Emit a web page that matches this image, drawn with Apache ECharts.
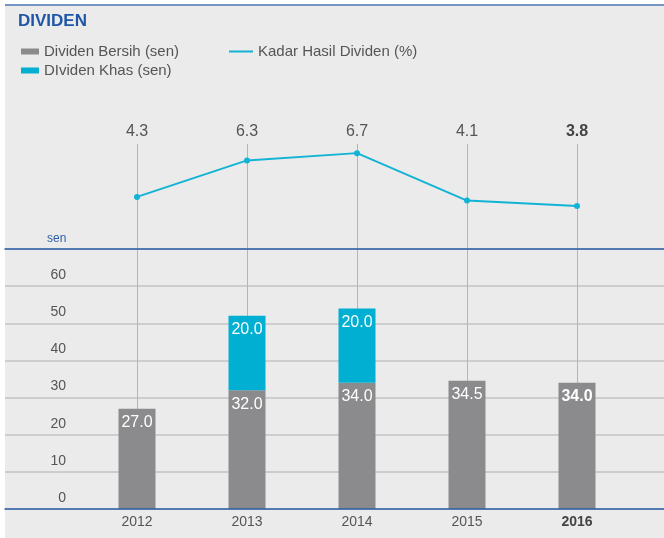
<!DOCTYPE html>
<html>
<head>
<meta charset="utf-8">
<script src="https://cdn.jsdelivr.net/npm/echarts@6/dist/echarts.min.js"></script>
<style>
  html, body { margin: 0; padding: 0; background: #fff; }
  #main { width: 664px; height: 538px; }
</style>
</head>
<body>
<div id="main"></div>
<script>
var years = ["2012", "2013", "2014", "2015", "2016"];
var dividenBersih = [27.0, 32.0, 34.0, 34.5, 34.0];
var dividenKhas = [null, 20.0, 20.0, null, null];
var kadarHasil = [4.3, 6.3, 6.7, 4.1, 3.8];
var senTicks = [0, 10, 20, 30, 40, 50, 60, 70];

var FONT = "Liberation Sans, Arial, sans-serif";
var lastIdx = years.length - 1;

// tahun semasa ditebalkan
function boldLast(arr) {
  return arr.map(function (v, i) {
    return i === lastIdx ? { value: v, textStyle: { fontWeight: "bold", color: "#444" } } : v;
  });
}

function barData(arr) {
  return arr.map(function (v, i) {
    if (v == null) return "-";
    var d = { value: v };
    if (i === lastIdx) d.label = { fontWeight: "bold" };
    return d;
  });
}

var myChart = echarts.init(document.getElementById("main"));
myChart.setOption({
  backgroundColor: "#fff",
  textStyle: { fontFamily: FONT },
  animation: false,
  graphic: [
    { type: "rect", shape: { x: 5, y: 6, width: 659, height: 532 }, style: { fill: "#ebebeb" }, z: -10 },
    { type: "line", shape: { x1: 5, y1: 5, x2: 664, y2: 5 }, style: { stroke: "#4a72ad", lineWidth: 1.5 }, z: -5 }
  ],
  title: {
    text: "DIVIDEN",
    left: 13,
    top: 8,
    textStyle: { color: "#1e56a8", fontSize: 17, fontWeight: "bold", fontFamily: FONT }
  },
  legend: [
    {
      orient: "vertical",
      left: 16,
      top: 39,
      itemWidth: 18,
      itemHeight: 6,
      itemGap: 4,
      icon: "rect",
      textStyle: { color: "#555", fontSize: 15, fontFamily: FONT },
      data: ["Dividen Bersih (sen)", "DIviden Khas (sen)"]
    },
    {
      left: 224,
      top: 39,
      itemWidth: 24,
      itemHeight: 2,
      icon: "rect",
      textStyle: { color: "#555", fontSize: 15, fontFamily: FONT },
      data: ["Kadar Hasil Dividen (%)"]
    }
  ],
  grid: [
    { left: 5, right: 0, top: 249, bottom: 29 },
    { left: 82, right: 32, top: 249, bottom: 29 },
    { left: 137, right: 87, top: 144, bottom: 29 }
  ],
  xAxis: [
    {
      gridIndex: 0, type: "value", min: 0, max: 1, position: "bottom", z: 5,
      axisLine: { show: true, lineStyle: { color: "#2d5ea8", width: 1.5 } },
      axisTick: { show: false }, axisLabel: { show: false }, splitLine: { show: false }
    },
    {
      gridIndex: 0, type: "value", min: 0, max: 1, position: "top", z: 5,
      axisLine: { show: true, lineStyle: { color: "#2d5ea8", width: 1.5 } },
      axisTick: { show: false }, axisLabel: { show: false }, splitLine: { show: false }
    },
    {
      gridIndex: 1, type: "category", data: boldLast(years),
      axisLine: { show: false }, axisTick: { show: false },
      axisLabel: { color: "#555", fontSize: 14, margin: 6, fontFamily: FONT }
    },
    {
      gridIndex: 2, type: "category", position: "top", boundaryGap: false,
      data: boldLast(kadarHasil.map(function (v) { return v.toFixed(1); })),
      axisLine: { show: false },
      axisTick: { show: false },
      axisLabel: { color: "#555", fontSize: 16, margin: 4, fontFamily: FONT },
      splitLine: { show: true, lineStyle: { color: "#b5b5b5", width: 1 } }
    }
  ],
  yAxis: [
    {
      gridIndex: 0, type: "value", min: senTicks[0], max: senTicks[senTicks.length - 1], interval: 10,
      name: "sen", nameLocation: "end", nameGap: 4,
      nameTextStyle: { color: "#2d5ea8", fontSize: 12, align: "left", padding: [0, 0, 0, 42], fontFamily: FONT },
      axisLine: { show: false }, axisTick: { show: false },
      axisLabel: {
        inside: true, margin: 61, align: "right", verticalAlign: "bottom", lineHeight: 22,
        color: "#555", fontSize: 14, showMaxLabel: false, fontFamily: FONT
      },
      splitLine: { show: true, lineStyle: { color: "#c3c3c3", width: 1.5 } }
    },
    { gridIndex: 1, type: "value", min: 0, max: 70, show: false, splitLine: { show: false } },
    { gridIndex: 2, type: "value", min: -12.8, max: 7.2, show: false, splitLine: { show: false } }
  ],
  series: [
    {
      name: "Dividen Bersih (sen)",
      type: "bar",
      xAxisIndex: 2, yAxisIndex: 1,
      stack: "dividen",
      barWidth: 37,
      itemStyle: { color: "#8b8b8d" },
      label: {
        show: true, position: "insideTop", distance: 6, color: "#fff", fontSize: 16, fontFamily: FONT,
        formatter: function (p) { return p.value.toFixed(1); }
      },
      data: barData(dividenBersih)
    },
    {
      name: "DIviden Khas (sen)",
      type: "bar",
      xAxisIndex: 2, yAxisIndex: 1,
      stack: "dividen",
      barWidth: 37,
      itemStyle: { color: "#00afd1" },
      label: {
        show: true, position: "insideTop", distance: 6, color: "#fff", fontSize: 16, fontFamily: FONT,
        formatter: function (p) { return p.value.toFixed(1); }
      },
      data: barData(dividenKhas)
    },
    {
      name: "Kadar Hasil Dividen (%)",
      type: "line",
      xAxisIndex: 3, yAxisIndex: 2,
      symbol: "circle",
      symbolSize: 6,
      itemStyle: { color: "#12b3d5" },
      lineStyle: { color: "#12b3d5", width: 2 },
      data: kadarHasil
    }
  ]
});
</script>
</body>
</html>
